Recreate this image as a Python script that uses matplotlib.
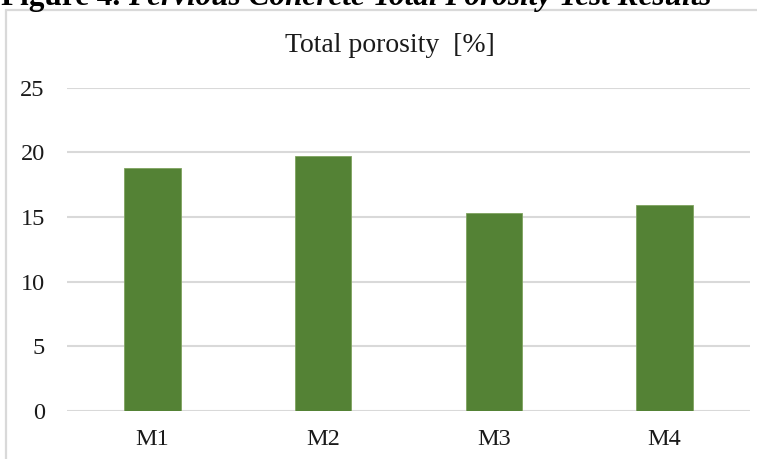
import matplotlib.pyplot as plt
from matplotlib.patches import Rectangle

mixes = ["M1", "M2", "M3", "M4"]
porosity = [18.8, 19.7, 15.3, 15.95]
y_ticks = [0, 5, 10, 15, 20, 25]

plt.rcParams["font.family"] = ["Liberation Serif", "DejaVu Serif"]

fig = plt.figure(figsize=(7.57, 4.59), dpi=100)
W, H = 757, 459

# caption line, mostly cut off at the top edge
cap_y = 1 - 5 / H
head = fig.text(1 / W, cap_y, "Figure 4. ", fontsize=22.5, fontweight="bold",
                ha="left", va="baseline")
fig.canvas.draw()
bb = head.get_window_extent(renderer=fig.canvas.get_renderer())
fig.text(bb.x1 / W, cap_y, "Pervious Concrete Total Porosity Test Results",
         fontsize=22.5, fontweight="bold", style="italic",
         ha="left", va="baseline")

# chart frame
fig.patches.append(Rectangle((6 / W, -0.1), 1.2, (H - 10) / H + 0.1,
                             transform=fig.transFigure, fill=False,
                             edgecolor="#d9d9d9", linewidth=1.6))

ax = fig.add_axes([67 / W, 48 / H, (750 - 67) / W, (411 - 87.7) / H])
x = range(len(mixes))
ax.bar(x, porosity, width=0.33, color="#548235", edgecolor="#7fa35f",
       linewidth=0.6, zorder=3)

ax.set_xlim(-0.5, len(mixes) - 0.5)
ax.set_ylim(0, 25)
ax.set_yticks(y_ticks)
ax.set_xticks(list(x))
ax.set_xticklabels(mixes)
ax.yaxis.grid(True, color="#d9d9d9", linewidth=1.5, zorder=0)
ax.tick_params(axis="both", length=0, labelsize=17.5, colors="#1a1a1a")
ax.tick_params(axis="y", pad=16)
ax.tick_params(axis="x", pad=13)
for side in ax.spines.values():
    side.set_visible(False)

fig.text(390 / W, 1 - 46 / H, "Total porosity  [%]", fontsize=20,
         ha="center", va="center", color="#1a1a1a")

fig.savefig("out.png", dpi=100)
